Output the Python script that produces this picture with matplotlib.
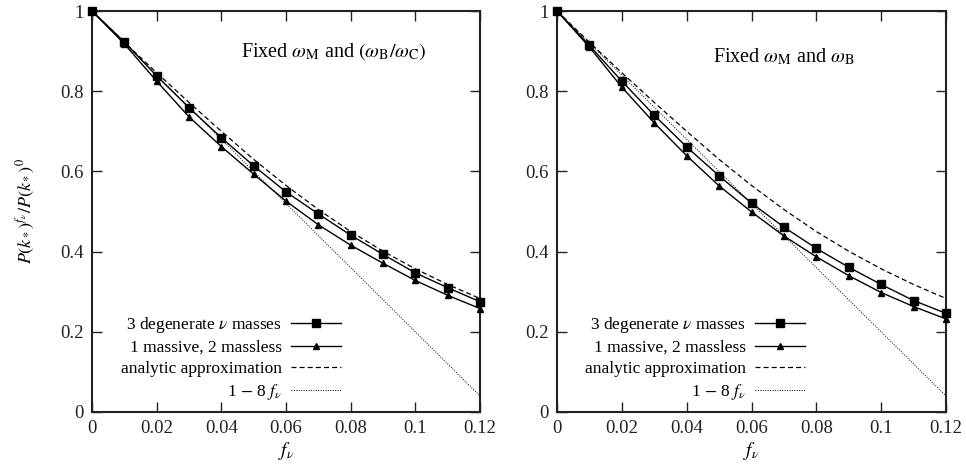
import matplotlib
matplotlib.use("Agg")
import matplotlib.pyplot as plt

plt.rcParams['font.family'] = ['Liberation Serif', 'DejaVu Serif']
plt.rcParams['mathtext.fontset'] = 'stix'

f_nu = [0.0, 0.01, 0.02, 0.03, 0.04, 0.05, 0.06, 0.07, 0.08, 0.09, 0.10, 0.11, 0.12]

# Left panel: fixed omega_M and omega_B/omega_C
left_degenerate = [1.0, 0.923, 0.838, 0.759, 0.684, 0.614, 0.549, 0.494, 0.441, 0.393, 0.347, 0.310, 0.275]
left_one_massive = [1.0, 0.918, 0.825, 0.736, 0.662, 0.593, 0.526, 0.467, 0.416, 0.371, 0.328, 0.291, 0.258]

# Right panel: fixed omega_M and omega_B
right_degenerate = [1.0, 0.914, 0.825, 0.740, 0.661, 0.589, 0.521, 0.461, 0.408, 0.361, 0.318, 0.278, 0.246]
right_one_massive = [1.0, 0.910, 0.810, 0.721, 0.639, 0.564, 0.499, 0.439, 0.387, 0.340, 0.298, 0.263, 0.232]

# Analytic approximation (same in both panels)
analytic = [1.0, 0.922, 0.846, 0.772, 0.700, 0.630, 0.565, 0.505, 0.450, 0.401, 0.357, 0.318, 0.283]

# 1 - 8 f_nu (straight line endpoints)
linear_x = [0.0, 0.12]
linear_y = [1.0, 0.04]

xticks = [0, 0.02, 0.04, 0.06, 0.08, 0.1, 0.12]
xticklabels = ['0', '0.02', '0.04', '0.06', '0.08', '0.1', '0.12']
yticks = [0, 0.2, 0.4, 0.6, 0.8, 1.0]
yticklabels = ['0', '0.2', '0.4', '0.6', '0.8', '1']

labels = [r'3 degenerate $\nu$ masses', '1 massive, 2 massless',
          'analytic approximation', r'1 $-$ 8 $f_\nu$']
titles = [r'Fixed $\omega_\mathrm{M}$ and $(\omega_\mathrm{B}/\omega_\mathrm{C})$',
          r'Fixed $\omega_\mathrm{M}$ and $\omega_\mathrm{B}$']

fig = plt.figure(figsize=(9.66, 4.68), dpi=100)
ax1 = fig.add_axes([92/966, 1-412/468, 388/966, 401/468])
ax2 = fig.add_axes([557/966, 1-412/468, 389/966, 401/468])

panels = [(ax1, left_degenerate, left_one_massive, titles[0], (0.624, 0.90), 0.66),
          (ax2, right_degenerate, right_one_massive, titles[1], (0.584, 0.885), 0.655)]

for ax, deg, one, title, tpos, lx in panels:
    h1, = ax.plot(f_nu, deg, '-', color='black', lw=1.0, marker='s', ms=6.3, clip_on=False, zorder=4)
    h2, = ax.plot(f_nu, one, '-', color='black', lw=1.0, marker='^', ms=4.8, clip_on=False, zorder=4)
    h3, = ax.plot(f_nu, analytic, '--', color='black', lw=0.9, dashes=(4, 2.5))
    h4, = ax.plot(linear_x, linear_y, ':', color='black', lw=0.7, dashes=(1, 1.5))
    ax.set_xlim(0, 0.12)
    ax.set_ylim(0, 1)
    ax.set_xticks(xticks)
    ax.set_xticklabels(xticklabels)
    ax.set_yticks(yticks)
    ax.set_yticklabels(yticklabels)
    ax.tick_params(direction='in', top=True, right=True, length=7, width=1.0,
                   labelsize=13.5, pad=6, colors='#222222', labelcolor='#222222')
    for s in ax.spines.values():
        s.set_linewidth(1.5)
        s.set_color('#222222')
    ax.set_xlabel(r'$f_\nu$', fontsize=14, labelpad=2)
    ax.text(tpos[0], tpos[1], title, transform=ax.transAxes, ha='center', va='center', fontsize=14.5)
    ax.legend([h1, h2, h3, h4], labels, loc='lower right', bbox_to_anchor=(lx, 0.008),
              frameon=False, markerfirst=False, fontsize=12.5, handlelength=2.9,
              handletextpad=0.5, labelspacing=0.28, borderaxespad=0)

ax1.set_ylabel(r'$P(k_*)^{f_\nu}/P(k_*)^0$', fontsize=13, labelpad=17)

fig.savefig('out.png', dpi=100)
